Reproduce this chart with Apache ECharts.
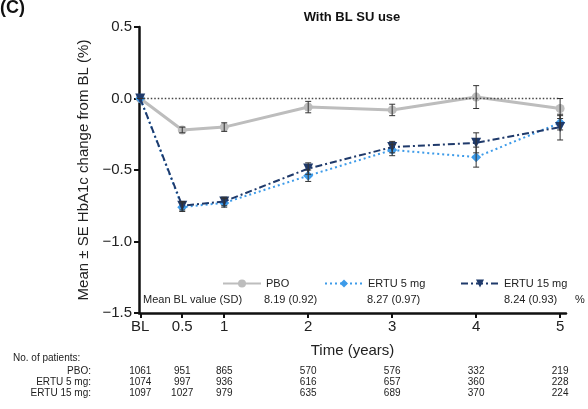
<!DOCTYPE html>
<html>
<head>
<meta charset="utf-8">
<script src="https://cdn.jsdelivr.net/npm/echarts@6/dist/echarts.min.js"></script>
<style>
  html, body { margin: 0; padding: 0; background: #fff; }
  #chart { width: 588px; height: 409px; }
</style>
</head>
<body>
<div id="chart"></div>
<script>
// data
const years = [0, 0.5, 1, 2, 3, 4, 5];
const xTickLabels = ['BL', '0.5', '1', '2', '3', '4', '5'];

const pboMean = [0, -0.22, -0.20, -0.06, -0.08, 0.01, -0.07];
const pboSE = [0, 0.02, 0.03, 0.04, 0.04, 0.08, 0.07];
const ertu5Mean = [0, -0.76, -0.73, -0.54, -0.36, -0.41, -0.17];
const ertu5SE = [0, 0.03, 0.03, 0.04, 0.04, 0.07, 0.05];
const ertu15Mean = [0, -0.75, -0.72, -0.49, -0.34, -0.31, -0.20];
const ertu15SE = [0, 0.03, 0.03, 0.04, 0.04, 0.07, 0.09];

const seriesNames = ['PBO', 'ERTU 5 mg', 'ERTU 15 mg'];
const meanBL = ['8.19 (0.92)', '8.27 (0.97)', '8.24 (0.93)'];

const patientRows = ['PBO:', 'ERTU 5 mg:', 'ERTU 15 mg:'];
const patientsPbo = [1061, 951, 865, 570, 576, 332, 219];
const patientsErtu5 = [1074, 997, 936, 616, 657, 360, 228];
const patientsErtu15 = [1097, 1027, 979, 635, 689, 370, 224];

const FONT = '"Liberation Sans", Arial, sans-serif';
const colors = ['#bdbdbd', '#3d9be9', '#1f3a6b'];

const pairs = (xs, ys) => xs.map((x, i) => [x, ys[i]]);
const errData = (xs, m, se) => xs.map((x, i) => [x, m[i] - se[i], m[i] + se[i]]);

// error bar with small caps
const renderErr = (params, api) => {
  const lo = api.coord([api.value(0), api.value(1)]);
  const hi = api.coord([api.value(0), api.value(2)]);
  const w = 3;
  const style = { stroke: '#333', lineWidth: 1 };
  return {
    type: 'group',
    children: [
      { type: 'line', shape: { x1: lo[0], y1: lo[1], x2: hi[0], y2: hi[1] }, style },
      { type: 'line', shape: { x1: lo[0] - w, y1: lo[1], x2: lo[0] + w, y2: lo[1] }, style },
      { type: 'line', shape: { x1: hi[0] - w, y1: hi[1], x2: hi[0] + w, y2: hi[1] }, style }
    ]
  };
};

const legendAt = (name, left) => ({
  data: [name],
  left: left,
  top: 273,
  itemWidth: 38,
  itemHeight: 10,
  selectedMode: false,
  textStyle: { fontFamily: FONT, fontSize: 11, color: '#222' }
});

const chart = echarts.init(document.getElementById('chart'));

chart.setOption({
  animation: false,
  backgroundColor: '#fff',
  grid: { left: 139, right: 22, top: 27, bottom: 96 },
  legend: [
    legendAt('PBO', 217),
    legendAt('ERTU 5 mg', 319),
    legendAt('ERTU 15 mg', 455)
  ],
  xAxis: {
    type: 'value',
    min: -0.015,
    max: 5.07,
    splitLine: { show: false },
    axisLine: { onZero: false, lineStyle: { color: '#111', width: 2.5 } },
    axisTick: { length: 5, lineStyle: { color: '#111', width: 2 }, customValues: years },
    axisLabel: {
      customValues: years,
      margin: 6,
      fontFamily: FONT, fontSize: 15, color: '#222',
      formatter: v => xTickLabels[years.indexOf(v)]
    },
    name: 'Time (years)',
    nameLocation: 'middle',
    nameGap: 30,
    nameTextStyle: { fontFamily: FONT, fontSize: 15, color: '#222' }
  },
  yAxis: {
    type: 'value',
    min: -1.5,
    max: 0.5,
    interval: 0.5,
    splitLine: { show: false },
    axisLine: { show: true, onZero: false, lineStyle: { color: '#111', width: 2.5 } },
    axisTick: { show: true, length: 5, lineStyle: { color: '#111', width: 2 } },
    axisLabel: {
      margin: 7,
      fontFamily: FONT, fontSize: 15, color: '#222',
      formatter: v => v.toFixed(1).replace('-', '\u2212')
    },
    name: 'Mean \u00b1 SE HbA1c change from BL (%)',
    nameLocation: 'middle',
    nameRotate: 90,
    nameGap: 40,
    nameTextStyle: { fontFamily: FONT, fontSize: 15, color: '#222' }
  },
  series: [
    {
      name: 'PBO', type: 'line', data: pairs(years, pboMean),
      symbol: 'circle', symbolSize: 9,
      itemStyle: { color: colors[0] },
      lineStyle: { color: colors[0], width: 3 },
      z: 3,
      markLine: {
        silent: true, symbol: 'none', label: { show: false },
        lineStyle: { type: [1.5, 2], color: '#444', width: 1.3 },
        emphasis: { disabled: true },
        data: [[{ coord: [0, 0] }, { coord: [5, 0] }]]
      }
    },
    {
      name: 'ERTU 5 mg', type: 'line', data: pairs(years, ertu5Mean),
      symbol: 'diamond', symbolSize: 10,
      itemStyle: { color: colors[1] },
      lineStyle: { color: colors[1], width: 2, type: [2, 3] },
      z: 4
    },
    {
      name: 'ERTU 15 mg', type: 'line', data: pairs(years, ertu15Mean),
      symbol: 'triangle', symbolRotate: 180, symbolSize: 10,
      itemStyle: { color: colors[2] },
      lineStyle: { color: colors[2], width: 2, type: [7, 3, 2, 3] },
      z: 5
    },
    { type: 'custom', renderItem: renderErr, data: errData(years, pboMean, pboSE), z: 6, silent: true },
    { type: 'custom', renderItem: renderErr, data: errData(years, ertu5Mean, ertu5SE), z: 6, silent: true },
    { type: 'custom', renderItem: renderErr, data: errData(years, ertu15Mean, ertu15SE), z: 6, silent: true }
  ]
});

// texts: title, panel letter, mean BL row, patient counts
const txt = (text, x, y, opts) => ({
  type: 'text', x: x, y: y, silent: true,
  style: Object.assign({ text: text, fontFamily: FONT, fontSize: 10, fill: '#222', textVerticalAlign: 'middle' }, opts || {})
});

const graphics = [
  txt('(C)', 0, 8, { fontSize: 18, fontWeight: 'bold', fill: '#111' }),
  txt('With BL SU use', 352, 17, { fontSize: 13, fontWeight: 'bold', fill: '#111', textAlign: 'center' }),
  txt('Mean BL value (SD)', 143, 300, { fontSize: 11 }),
  txt(meanBL[0], 264, 300, { fontSize: 11 }),
  txt(meanBL[1], 367, 300, { fontSize: 11 }),
  txt(meanBL[2], 504, 300, { fontSize: 11 }),
  txt('%', 575, 300, { fontSize: 11 }),
  txt('No. of patients:', 13, 358, { fontSize: 10 })
];

const rowY = [371, 382, 393];
const rowsData = [patientsPbo, patientsErtu5, patientsErtu15];
patientRows.forEach((label, r) => {
  graphics.push(txt(label, 91, rowY[r], { textAlign: 'right' }));
  rowsData[r].forEach((n, i) => {
    const px = chart.convertToPixel({ xAxisIndex: 0 }, years[i]);
    graphics.push(txt(String(n), px, rowY[r], { textAlign: 'center' }));
  });
});

chart.setOption({ graphic: graphics });
</script>
</body>
</html>
